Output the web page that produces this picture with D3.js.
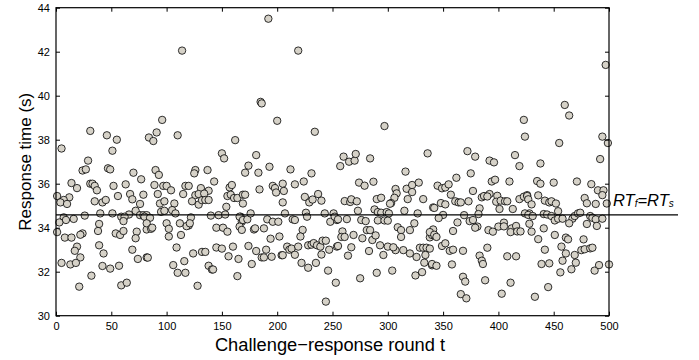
<!DOCTYPE html>
<html>
<head>
<meta charset="utf-8">
<script src="https://cdn.jsdelivr.net/npm/d3@7"></script>
<style>
    body { margin: 0; background: #fff; }
    svg { font-family: "Liberation Sans", Arial, sans-serif; }
    .tick text { font-size: 11px; fill: #000; }
</style>
</head>
<body>
<div id="chart"></div>
<script>
// challenge-response round number (x) for each measured point
const ROUNDS = [
    1,31,46,55,5,51,29,24,27,47,49,70,77,14,31,33,35,19,37,52,63,12,7,4,10,35,42,45,56,67,69,76,79,40,51,26,66,59,62,72,76,79,82,7,16,9,3,61,1,39,24,22,38,54,58,61,73,72,82,8,14,39,19,17,69,43,22,74,82,5,13,18,42,49,57,32,21,59,64,
    114,96,91,84,88,110,162,150,152,90,93,126,125,137,143,97,100,104,89,117,120,131,138,157,159,92,115,126,129,134,155,158,161,164,169,94,98,107,123,129,132,135,138,154,95,98,105,108,122,120,118,140,147,153,167,168,166,80,85,82,86,87,100,102,102,112,113,121,145,151,155,145,150,160,109,124,132,135,156,165,83,106,116,138,141,142,110,117,164,128,
    192,219,185,186,200,234,181,174,171,183,193,212,231,257,171,169,184,196,198,199,205,206,205,216,224,225,229,232,237,240,166,169,173,176,168,179,180,188,191,196,201,207,214,216,226,227,223,243,248,251,254,174,181,186,188,190,194,195,202,204,205,209,211,213,216,219,221,222,228,228,231,233,236,239,241,244,235,240,246,247,254,253,244,177,
    297,336,260,265,270,271,284,316,274,279,287,307,308,306,317,322,328,322,332,303,302,318,290,294,261,266,267,272,273,288,291,294,299,301,315,327,341,252,255,263,276,280,281,284,291,297,300,309,312,320,324,341,259,258,261,269,277,286,289,312,338,340,255,267,293,300,307,305,314,320,326,329,332,335,264,283,296,334,333,340,331,325,290,304,275,
    423,424,372,379,392,396,415,419,375,362,394,397,410,345,349,352,355,357,377,385,387,392,390,399,419,423,426,342,348,352,361,364,366,373,383,398,402,406,408,401,413,428,350,346,369,382,363,359,374,377,381,379,391,395,400,405,405,412,416,411,417,420,338,342,344,338,340,344,349,352,356,359,368,390,383,385,386,358,408,416,368,370,388,411,366,371,403,
    497,460,464,494,499,455,492,438,435,438,450,471,484,490,495,494,498,426,427,430,436,442,446,448,452,478,480,488,454,424,427,431,441,444,448,451,454,458,467,469,472,474,464,483,485,488,494,428,480,489,441,430,436,451,461,463,477,457,442,475,478,483,485,461,469,470,458,439,446,466,456,487,491,500,445,433
];

// response time in seconds, same order as ROUNDS
const RESPONSE_TIMES = [
    35.44,38.4,38.2,38.0,37.6,37.5,37.05,36.6,36.65,36.7,36.65,36.5,36.2,36.03,36.0,36.0,35.9,35.8,35.7,35.9,35.97,35.38,35.26,35.15,35.08,35.2,35.15,35.26,35.44,35.53,35.29,35.08,35.5,34.65,34.65,34.55,34.6,34.5,34.5,34.77,34.57,34.57,34.57,34.47,34.4,34.35,34.24,34.3,33.8,34.17,33.74,33.68,33.85,33.74,33.67,33.85,33.82,33.52,33.92,33.55,33.55,33.2,33.14,32.95,33.0,32.83,32.65,32.58,32.65,32.4,32.33,32.4,32.26,32.14,32.27,31.82,31.32,31.38,31.5,
    42.05,38.9,38.33,38.1,37.94,38.2,37.98,37.38,37.15,36.62,36.4,36.62,36.47,36.62,36.1,35.9,35.9,35.7,35.94,35.9,35.9,35.8,35.68,35.83,35.94,35.53,35.53,35.48,35.53,35.55,35.44,35.5,35.35,35.35,35.5,35.1,35.2,35.1,35.2,35.05,35.25,35.26,35.26,34.95,34.72,34.77,34.8,34.65,34.47,34.1,34.07,34.55,34.57,34.6,34.5,34.27,34.05,34.5,34.45,34.2,33.95,34.0,34.2,33.95,33.6,34.2,33.67,34.2,34.0,34.0,33.82,33.1,33.05,33.14,33.1,32.83,32.9,32.9,32.7,32.58,32.64,32.3,32.48,32.27,32.1,32.1,31.95,31.95,31.8,31.36,
    43.5,42.05,39.72,39.65,38.86,38.36,37.3,36.82,36.5,36.5,36.77,36.65,36.47,36.8,35.5,35.1,35.74,35.9,35.8,35.6,36.0,35.67,35.15,35.97,36.1,35.4,35.15,35.28,35.53,35.23,34.5,34.35,34.38,34.65,33.9,33.92,33.97,33.97,34.38,34.27,34.27,34.65,34.38,34.35,34.68,34.5,33.9,34.65,34.27,34.65,34.35,33.17,32.94,32.65,32.65,33.0,33.5,32.68,33.6,32.75,32.75,33.14,33.0,33.05,32.77,33.14,33.6,32.4,32.18,33.2,33.23,33.3,33.2,33.14,33.41,33.41,32.4,32.78,32.05,33.0,33.14,31.5,30.64,32.35,
    38.62,37.38,37.23,37.0,37.05,37.35,37.15,36.55,36.05,35.91,36.09,35.76,35.56,35.36,35.77,35.94,36.05,35.62,35.3,35.12,35.09,35.3,35.3,35.36,35.21,35.17,35.29,35.2,34.77,34.83,34.71,34.68,34.71,34.65,34.77,34.65,34.92,34.5,34.38,34.39,34.35,34.3,33.89,33.89,34.33,34.33,34.32,34.02,33.89,33.89,34.2,33.92,33.83,33.58,33.58,33.67,33.52,33.44,33.65,33.58,33.56,33.67,33.17,33.11,33.2,33.14,32.98,33.11,32.98,32.83,32.67,33.09,33.09,33.09,32.73,32.94,32.76,32.76,32.41,32.29,31.98,31.83,31.95,32.05,31.7,
    38.9,38.14,37.48,37.23,37.05,36.97,37.3,36.8,36.47,36.27,36.1,36.18,36.1,35.91,35.79,35.83,35.97,35.5,35.67,35.38,35.44,35.53,35.42,35.45,35.3,35.41,35.48,34.9,35.12,35.06,35.2,35.15,35.15,35.2,34.88,35.18,35.23,35.2,35.2,34.85,34.85,34.65,34.58,34.44,34.57,34.62,34.24,33.85,34.3,34.35,34.05,34.0,33.89,33.82,34.05,34.23,34.06,33.97,34.08,33.8,33.83,33.83,33.8,33.68,33.58,33.05,32.35,32.27,33.17,33.29,32.95,33.0,32.95,33.09,32.73,32.5,32.35,32.33,32.7,32.7,31.77,31.55,31.61,31.5,30.98,30.79,31.0,
    41.4,39.58,39.1,38.14,37.85,37.85,37.12,36.92,36.12,36.0,36.05,36.1,35.98,35.7,35.7,35.48,35.1,35.44,35.29,35.06,35.47,35.23,35.15,35.2,35.1,35.35,35.11,35.08,34.75,34.65,34.58,34.53,34.62,34.6,34.53,34.33,34.41,34.41,34.41,34.53,34.65,34.68,34.2,34.53,34.45,34.38,34.41,34.18,34.17,34.08,33.97,33.82,33.48,33.67,33.55,33.47,33.47,33.14,33.0,32.98,33.02,33.06,33.09,32.83,32.76,32.41,32.5,32.35,32.38,32.11,31.97,32.05,32.3,32.33,31.3,30.86
];

const X_TICKS = [0, 50, 100, 150, 200, 250, 300, 350, 400, 450, 500];
const Y_TICKS = [30, 32, 34, 36, 38, 40, 42, 44];

// RTf = RTs threshold level
const THRESHOLD = 34.58;

function drawScatter() {
    const width = 699;
    const height = 360;
    const plot = { left: 56, right: 609, top: 7.7, bottom: 315.7 };

    const svg = d3.select("#chart")
        .append("svg")
        .attr("width", width)
        .attr("height", height);

    const x = d3.scaleLinear().domain([0, 500]).range([plot.left, plot.right]);
    const y = d3.scaleLinear().domain([30, 44]).range([plot.bottom, plot.top]);

    const points = ROUNDS.map((r, i) => ({ round: r, time: RESPONSE_TIMES[i] }));

    // points first, box and axes drawn over them
    svg.append("g")
        .selectAll("circle")
        .data(points)
        .enter()
        .append("circle")
        .attr("cx", d => x(d.round))
        .attr("cy", d => y(d.time))
        .attr("r", 3.7)
        .attr("fill", "#d6d2c8")
        .attr("stroke", "#000")
        .attr("stroke-width", 0.8);

    // bottom axis, ticks pointing inwards
    svg.append("g")
        .attr("transform", `translate(0,${plot.bottom})`)
        .call(d3.axisBottom(x).tickValues(X_TICKS).tickSizeInner(-4).tickSizeOuter(0).tickPadding(7))
        .call(g => g.select(".domain").remove());

    // top mirrored ticks
    svg.append("g")
        .attr("transform", `translate(0,${plot.top})`)
        .call(d3.axisTop(x).tickValues(X_TICKS).tickSizeInner(-4).tickSizeOuter(0).tickFormat(""))
        .call(g => g.select(".domain").remove());

    // left axis
    svg.append("g")
        .attr("transform", `translate(${plot.left},0)`)
        .call(d3.axisLeft(y).tickValues(Y_TICKS).tickSizeInner(-4).tickSizeOuter(0).tickPadding(6))
        .call(g => g.select(".domain").remove());

    // right mirrored ticks
    svg.append("g")
        .attr("transform", `translate(${plot.right},0)`)
        .call(d3.axisRight(y).tickValues(Y_TICKS).tickSizeInner(-4).tickSizeOuter(0).tickFormat(""))
        .call(g => g.select(".domain").remove());

    svg.selectAll(".tick line").attr("stroke", "#000");

    // frame
    svg.append("rect")
        .attr("x", plot.left)
        .attr("y", plot.top)
        .attr("width", plot.right - plot.left)
        .attr("height", plot.bottom - plot.top)
        .attr("fill", "none")
        .attr("stroke", "#000")
        .attr("stroke-width", 1.2);

    // threshold line, runs past the right edge
    svg.append("line")
        .attr("x1", plot.left)
        .attr("x2", 678)
        .attr("y1", y(THRESHOLD))
        .attr("y2", y(THRESHOLD))
        .attr("stroke", "#000")
        .attr("stroke-width", 1.2);

    const label = svg.append("text")
        .attr("x", plot.right + 4)
        .attr("y", y(THRESHOLD) - 9)
        .attr("font-size", "16.5px")
        .attr("font-style", "italic");
    label.append("tspan").text("RT");
    label.append("tspan").attr("font-size", "10px").attr("dy", 1).text("f");
    label.append("tspan").attr("dy", -1).text("=RT");
    label.append("tspan").attr("font-size", "10px").attr("dy", 1).text("s");

    // axis titles
    svg.append("text")
        .attr("x", 330)
        .attr("y", 351)
        .attr("text-anchor", "middle")
        .attr("font-size", "18.3px")
        .text("Challenge\u2212response round t");

    svg.append("text")
        .attr("transform", `translate(31,${(plot.top + plot.bottom) / 2}) rotate(-90)`)
        .attr("text-anchor", "middle")
        .attr("font-size", "17px")
        .text("Response time (s)");
}

window.onload = () => {
    drawScatter();
};
</script>
</body>
</html>
